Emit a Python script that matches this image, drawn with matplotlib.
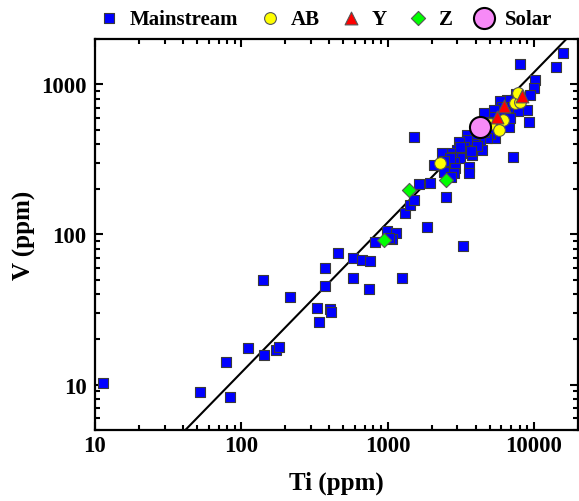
import matplotlib
matplotlib.use("Agg")
import matplotlib.pyplot as plt
import numpy as np

plt.rcParams['font.family'] = ['Liberation Serif', 'DejaVu Serif']
plt.rcParams['font.weight'] = 'bold'

# Mainstream grains: Ti and V concentrations (ppm)
mainstream_ti = [
    11.3, 51.9, 84, 78.5, 111, 142, 174, 180, 141, 214,
    327, 405, 410, 340, 371, 371, 461, 582, 583, 668,
    762, 742, 820, 991, 1148, 1071, 1025, 1265, 1307, 1415,
    1520, 1850, 1630, 1960, 2510, 3300, 1507,
    15810, 14090, 8020, 10120, 10000, 9400, 9020, 9200, 7230, 7530,
    6580, 6920, 7760, 5910, 6080, 6400, 5910, 6750, 5320, 5320,
    4590, 4920, 5320, 5470, 5050, 4790, 4320, 4430, 3990, 3880,
    3500, 3500, 3060, 2990, 3320, 3400, 3780, 3150, 2760, 2620,
    2830, 2550, 2910, 3590, 3590, 2830, 2420, 2070, 2360, 2690,
    2720, 3150, 4100, 4600, 3700, 2450, 5600, 6900,
]
mainstream_v = [
    10.3, 8.94, 8.28, 14.1, 17.5, 15.7, 17.1, 17.9, 49.4, 38.5,
    32.4, 32.0, 30.5, 26.1, 45, 60, 75, 51.4, 70, 67.7,
    66.4, 43.6, 89, 105, 103, 93, 95, 51.6, 138, 157,
    169, 112, 217, 221, 178, 84, 447,
    1626, 1303, 1358, 1064, 951, 855, 679, 565, 326, 867,
    783, 706, 665, 775, 706, 654, 622, 520, 671, 607,
    644, 562, 520, 436, 470, 436, 425, 364, 425, 403,
    458, 425, 414, 364, 383, 347, 337, 321, 347, 329,
    305, 290, 275, 282, 258, 255, 261, 290, 347, 321,
    242, 383, 390, 480, 360, 310, 560, 600,
]

# AB grains
ab_ti = [2275, 5050, 6150, 5800, 7380, 8110, 7800]
ab_v = [300, 545, 577, 500, 746, 760, 873]

# Y grains
y_ti = [8240, 6240, 5560]
y_v = [832, 714, 607]

# Z grains
z_ti = [946, 1393, 2495]
z_v = [91.5, 199, 230]

# Solar composition
solar_ti = [4315]
solar_v = [520]

# Solar V/Ti ratio line
ratio = 0.12
line_ti = np.array([30, 16500])

fig = plt.figure(figsize=(5.79, 5.02), dpi=100)
ax = fig.add_axes([0.164, 0.142, 0.834, 0.778])

ax.plot(line_ti, ratio * line_ti, color='black', lw=1.5, zorder=2)

ax.scatter(mainstream_ti, mainstream_v, marker='s', s=60, c='#0000ff',
           edgecolors='#3a3a3a', linewidths=0.8, zorder=3, label='Mainstream')
ax.scatter(ab_ti, ab_v, marker='o', s=72, c='#ffff00',
           edgecolors='#555555', linewidths=0.8, zorder=4, label='AB')
ax.scatter(y_ti, y_v, marker='^', s=85, c='#ff0000',
           edgecolors='#555555', linewidths=0.8, zorder=4, label='Y')
ax.scatter(z_ti, z_v, marker='D', s=52, c='#00ff00',
           edgecolors='#555555', linewidths=0.8, zorder=4, label='Z')
ax.scatter(solar_ti, solar_v, marker='o', s=230, c='#f78af7',
           edgecolors='black', linewidths=1.5, zorder=5, label='Solar')

ax.set_xscale('log')
ax.set_yscale('log')
ax.set_xlim(10, 20000)
ax.set_ylim(5, 2000)

ax.xaxis.set_major_formatter(matplotlib.ticker.FuncFormatter(lambda v, p: f"{v:g}"))
ax.yaxis.set_major_formatter(matplotlib.ticker.FuncFormatter(lambda v, p: f"{v:g}"))

ax.tick_params(which='both', direction='in', top=True, right=True,
               labelsize=16.5, width=1.5)
ax.tick_params(which='major', length=6)
ax.tick_params(which='minor', length=3.5)
ax.tick_params(axis='x', which='major', pad=4)
ax.tick_params(axis='y', which='major', pad=6)
for sp in ax.spines.values():
    sp.set_linewidth(1.6)

ax.set_xlabel('Ti (ppm)', fontsize=18, fontweight='bold', labelpad=10)
ax.set_ylabel('V (ppm)', fontsize=18, fontweight='bold', labelpad=4)

leg = ax.legend(loc='lower center', bbox_to_anchor=(0.475, 1.0), ncol=5,
                frameon=False, fontsize=15, handletextpad=0.4,
                columnspacing=0.9, handlelength=1.2, borderaxespad=0.1)

fig.savefig('out.png', dpi=100)
